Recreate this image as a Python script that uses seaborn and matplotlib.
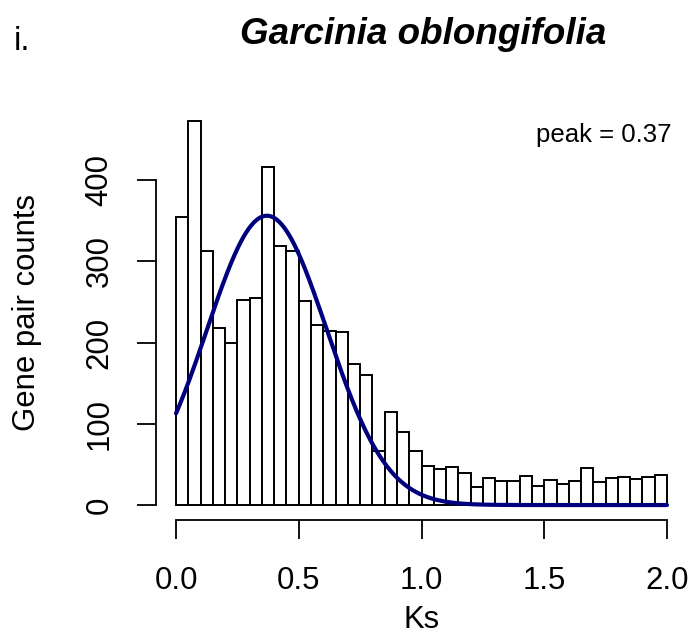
import numpy as np
import pandas as pd
import matplotlib
matplotlib.use("Agg")
import matplotlib.pyplot as plt
import seaborn as sns

# ---- data ----
bin_width = 0.05
ks_bin_left = [round(i * bin_width, 2) for i in range(40)]
gene_pair_counts = [355, 473, 312, 218, 199, 252, 255, 416, 319, 312,
                    251, 221, 214, 213, 173, 160, 66, 115, 90, 66,
                    48, 44, 47, 39, 22, 33, 30, 30, 36, 23,
                    31, 26, 30, 45, 28, 33, 34, 32, 34, 37]
fit_peak = 0.37
fit_height = 356
fit_sd = 0.244
x_ticks = [0.0, 0.5, 1.0, 1.5, 2.0]
y_ticks = [0, 100, 200, 300, 400]
title = "Garcinia oblongifolia"
panel_label = "i."

sns.set_theme(style="white")
plt.rcParams['font.family'] = ['Liberation Sans', 'DejaVu Sans']
plt.rcParams['text.color'] = 'black'
plt.rcParams['axes.labelcolor'] = 'black'

W, H = 690, 638
fig = plt.figure(figsize=(W / 100, H / 100), dpi=100)
left, right, bottom, top = 156.4, 686.6, 520.4, 105.3
ax = fig.add_axes([left / W, (H - bottom) / H, (right - left) / W, (bottom - top) / H])

df = pd.DataFrame({"Ks": [b + bin_width / 2 for b in ks_bin_left],
                   "count": gene_pair_counts})
edges = [b for b in ks_bin_left] + [ks_bin_left[-1] + bin_width]
sns.histplot(data=df, x="Ks", weights="count", bins=edges, ax=ax,
             color="white", edgecolor="black", linewidth=1.4, alpha=1)

xs = np.linspace(0, 2, 400)
ys = fit_height * np.exp(-(xs - fit_peak) ** 2 / (2 * fit_sd ** 2))
sns.lineplot(x=xs, y=ys, ax=ax, color="#00007F", linewidth=3.0)

ax.set_xlim(-0.08, 2.08)
ax.set_ylim(-18.9, 491.9)
for s in ["top", "right"]:
    ax.spines[s].set_visible(False)
ax.spines["left"].set_bounds(0, 400)
ax.spines["bottom"].set_bounds(0, 2)
for s in ["left", "bottom"]:
    ax.spines[s].set_color("black")
    ax.spines[s].set_linewidth(1.3)

ax.set_xticks(x_ticks)
ax.set_xticklabels([f"{v:.1f}" for v in x_ticks])
ax.set_yticks(y_ticks)
ax.set_yticklabels([str(v) for v in y_ticks], rotation=90, va="center")
ax.tick_params(axis="both", direction="out", length=14, width=1.3,
               color="black", labelsize=22.4, labelcolor="black",
               left=True, bottom=True)
ax.tick_params(axis="x", pad=19)
ax.tick_params(axis="y", pad=16)

ax.set_xlabel("Ks", fontsize=22.4, labelpad=6.5, color="black")
ax.set_ylabel("Gene pair counts", fontsize=22.4, labelpad=31, color="black")

fig.text(423 / W, 1 - 34 / H, title, fontsize=26.5, fontweight="bold",
         fontstyle="italic", ha="center", va="center", color="black")
fig.text(14 / W, 1 - 41 / H, panel_label, fontsize=24, ha="left", va="center",
         color="black")
ax.text(672 / W, 1 - 135 / H, f"peak = {fit_peak}", transform=fig.transFigure,
        fontsize=18.5, ha="right", va="center", color="black")

fig.savefig("out.png", dpi=100)
